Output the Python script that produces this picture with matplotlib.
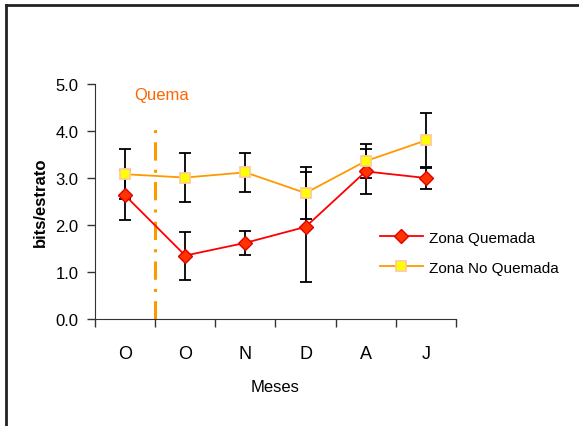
import matplotlib.pyplot as plt
from matplotlib.lines import Line2D

plt.rcParams['font.family'] = ['Liberation Sans', 'DejaVu Sans']

meses = ['O', 'O', 'N', 'D', 'A', 'J']
quemada = [2.63, 1.35, 1.62, 1.96, 3.14, 3.00]
quemada_err = [0.53, 0.51, 0.25, 1.17, 0.47, 0.23]
no_quemada = [3.08, 3.01, 3.12, 2.68, 3.36, 3.80]
no_quemada_err = [0.53, 0.53, 0.42, 0.56, 0.36, 0.58]

fig = plt.figure(figsize=(5.79, 4.27), dpi=100)
ax = fig.add_axes([95 / 579, 1 - 320 / 427, 361 / 579, 235 / 427])

x = list(range(len(meses)))
ax.errorbar(x, quemada, yerr=quemada_err, fmt='none', ecolor='black',
            elinewidth=1.3, capsize=4.4, capthick=1.3, zorder=2)
ax.errorbar(x, no_quemada, yerr=no_quemada_err, fmt='none', ecolor='black',
            elinewidth=1.3, capsize=4.4, capthick=1.3, zorder=2)
ax.plot(x, quemada, color='#FF0000', lw=1.3, marker='D', markersize=7,
        markerfacecolor='#FF3300', markeredgecolor='#E00000', label='Zona Quemada', zorder=3)
ax.plot(x, no_quemada, color='#FF9900', lw=1.3, marker='s', markersize=7,
        markerfacecolor='#FFFF00', markeredgecolor='#FFCC99', markeredgewidth=1.3,
        label='Zona No Quemada', zorder=3)

ax.plot([0.5, 0.5], [0, 4.1], color='#FF9900', lw=2.2, linestyle=(0, (6, 3, 1, 3)), zorder=1)
ax.text(0.6, 4.77, 'Quema', color='#FF6600', fontsize=12, ha='center', va='center')

ax.set_xlim(-0.5, 5.5)
ax.set_ylim(0, 5)
ax.set_yticks([0, 1, 2, 3, 4, 5])
ax.set_yticklabels(['0.0', '1.0', '2.0', '3.0', '4.0', '5.0'], fontsize=12)
ax.set_xticks([i - 0.5 for i in range(len(meses) + 1)])
ax.set_xticklabels([])
ax.set_xticks(x, minor=True)
ax.set_xticklabels(meses, minor=True, fontsize=13)
ax.tick_params(axis='x', which='minor', length=0, pad=19)
ax.tick_params(axis='both', which='major', length=6, width=1, color='#333333', direction='out')
ax.tick_params(axis='y', pad=6)
for s in ['top', 'right']:
    ax.spines[s].set_visible(False)
for s in ['left', 'bottom']:
    ax.spines[s].set_color('#333333')

ax.set_ylabel('bits/estrato', fontsize=12, fontweight='bold', labelpad=5)
ax.set_xlabel('Meses', fontsize=12, labelpad=12)

fig.legend(loc='upper left', bbox_to_anchor=(366 / 579, 1 - 218 / 427), frameon=False,
           fontsize=11, handlelength=2.8, labelspacing=1.05, handletextpad=0.4)

fig.add_artist(Line2D([6 / 579, 6 / 579], [0, 1 - 5.5 / 427], color='#222222', lw=2))
fig.add_artist(Line2D([6 / 579, 1], [1 - 5.5 / 427, 1 - 5.5 / 427], color='#222222', lw=2))

fig.savefig('out.png', dpi=100)
